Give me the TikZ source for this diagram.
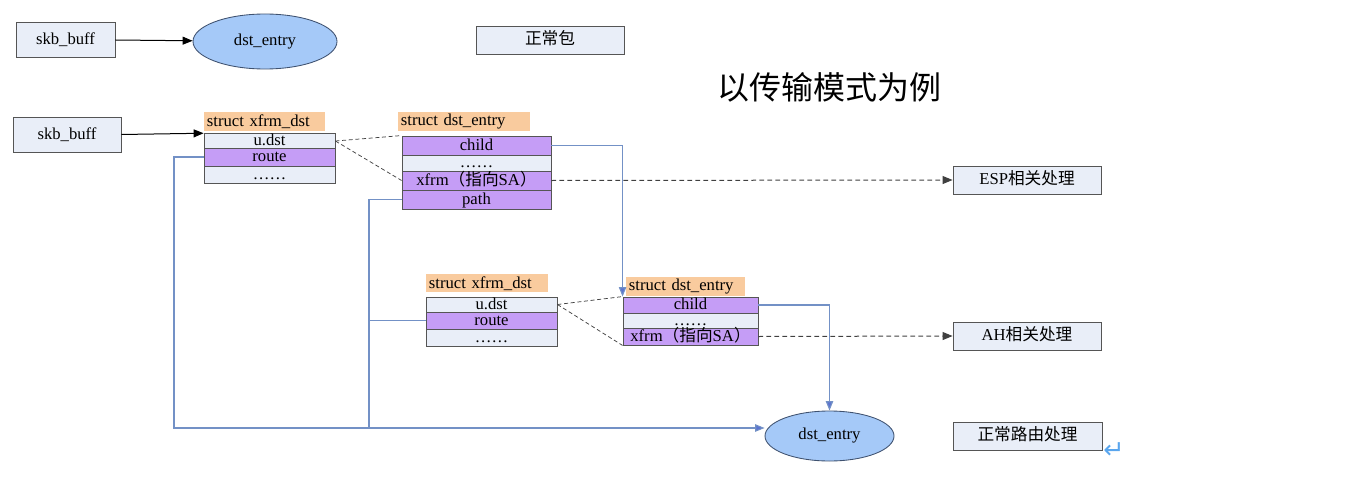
\documentclass[tikz,border=0pt]{standalone}
\usepackage{fontspec}
\setmainfont{Liberation Serif}
\newfontfamily\cjk{Noto Sans CJK SC}
\newfontfamily\djv{DejaVu Sans}
\usetikzlibrary{arrows.meta,shapes.geometric}
\definecolor{boxc}{HTML}{E9EEF8}
\definecolor{purp}{HTML}{C59DF6}
\definecolor{labc}{HTML}{F9CB9E}
\definecolor{ellc}{HTML}{A5C9F8}
\definecolor{linec}{HTML}{7391C6}
\definecolor{edgec}{HTML}{555555}
\definecolor{elledge}{HTML}{3F5270}
\definecolor{retc}{HTML}{5AA6EE}
\newcommand{\bx}[7]{%
  \pgfmathsetmacro\bxcx{(#2+#4)/2}%
  \pgfmathsetmacro\bxcy{(#3+#5)/2}%
  \pgfmathsetmacro\bxww{(#4-#2)*0.75}%
  \pgfmathsetmacro\bxhh{(#5-#3)*0.75}%
  \node[#1, minimum width=\bxww pt, minimum height=\bxhh pt] (#6) at (\bxcx,\bxcy) {#7};}
\begin{document}
\begin{tikzpicture}[x=0.75pt,y=-0.75pt,
  font=\fontsize{12.5}{14}\selectfont,
  box/.style={draw=edgec, fill=boxc, line width=0.65pt, inner sep=0pt, text height=9pt, text depth=2pt},
  lrow/.style={draw=edgec, fill=boxc, line width=0.65pt, inner sep=0pt, text height=9pt, text depth=2pt},
  prow/.style={draw=edgec, fill=purp, line width=0.65pt, inner sep=0pt, text height=9pt, text depth=2pt},
  lab/.style={fill=labc, inner xsep=2pt, inner ysep=0pt, minimum height=14.25pt, align=left, anchor=north west, text width=#1},
  ell/.style={ellipse, draw=elledge, fill=ellc, line width=0.65pt, inner sep=0pt},
  arr/.style={-{Triangle[length=7.5pt,width=6pt]}, line width=0.75pt, black},
  dsh/.style={dash pattern=on 3pt off 2pt, line width=0.55pt, black!75},
  dsharr/.style={dash pattern=on 3.5pt off 2.5pt, line width=0.75pt, black!75, -{Triangle[length=7.5pt,width=6pt]}},
  blu/.style={linec, line width=0.8pt},
  bluarr/.style={linec, line width=0.8pt, -{Triangle[length=7pt,width=5.5pt,fill=linec!80!blue]}}
]
\useasboundingbox (0,0) rectangle (1355,478);

% top row
\bx{box}{16}{22}{115}{57}{skb1}{skb\_buff}
\node[ell, minimum width=108pt, minimum height=41.25pt] (dst1) at (265,41.5) {dst\_entry};
\bx{box}{476}{26}{624}{54}{zc}{\cjk 正常包}
\node (title) at (829,87) {\fontsize{24}{28}\selectfont\cjk 以传输模式为例};

\bx{box}{13}{117}{121}{152}{skb2}{skb\_buff}

% table 1
\node[lab=86.75pt] (l1) at (204,112) {struct xfrm\_dst};
\bx{lrow}{204}{134}{335}{148}{t1a}{u.dst}
\bx{prow}{204}{148}{335}{166}{t1b}{route}
\bx{lrow}{204}{166}{335}{183}{t1c}{……}

% table 2
\node[lab=95pt] (l2) at (398,112) {struct dst\_entry};
\bx{prow}{402}{136}{551}{155}{t2a}{child}
\bx{lrow}{402}{155}{551}{171}{t2b}{……}
\bx{prow}{402}{171}{551}{190}{t2c}{xfrm{\cjk （指向}SA{\cjk ）}}
\bx{prow}{402}{190}{551}{209}{t2d}{path}

% table 3
\node[lab=87.5pt, minimum height=13.5pt] (l3) at (426,274) {struct xfrm\_dst};
\bx{lrow}{426}{297}{557}{312}{t3a}{u.dst}
\bx{prow}{426}{312}{557}{329}{t3b}{route}
\bx{lrow}{426}{329}{557}{346}{t3c}{……}

% table 4
\node[lab=85.25pt] (l4) at (626,277) {struct dst\_entry};
\bx{prow}{623}{297}{758}{313}{t4a}{child}
\bx{lrow}{623}{313}{758}{328}{t4b}{……}
\bx{prow}{623}{328}{758}{345}{t4c}{xfrm{\cjk （指向}SA{\cjk ）}}

% right boxes
\bx{box}{953}{166}{1101}{194}{esp}{ESP{\cjk 相关处理}}
\bx{box}{953}{322}{1101}{350}{ah}{AH{\cjk 相关处理}}
\bx{box}{953}{422}{1102}{450}{nr}{\cjk 正常路由处理}
\node[ell, minimum width=96.75pt, minimum height=37.5pt] (dst2) at (829.5,436) {dst\_entry};
\node[text=retc, font=\djv\fontsize{19}{19}\selectfont] (ret) at (1114,451) {↵};

% connectors
\draw[arr] (skb1) -- (dst1);
\draw[arr] (skb2.east) -- (t1a.north west);
\draw[dsh] (t1a.east) -- (t2a.north west);
\draw[dsh] (t1a.east) -- (t2c.west);
\draw[bluarr] (t2a.east) -| (t4a.north west);
\draw[dsharr] (t2c.east) -- (esp.west);
\coordinate (jn) at (369,428);
\coordinate (jl) at (174,428);
\draw[blu] (t2d.west) -| (jn);
\draw[blu] (t1b.west) -| (jl) -- (jn);
\draw[blu] (t3b.west) -- (t3b.west -| jn);
\draw[bluarr] (jn) -- (jn -| dst2.west);
\draw[dsh] (t3a.east) -- (t4a.north west);
\draw[dsh] (t3a.east) -- (t4c.south west);
\draw[bluarr] (t4a.east) -| (dst2.north);
\draw[dsharr] (t4c.east) -- (ah.west);
\end{tikzpicture}
\end{document}
